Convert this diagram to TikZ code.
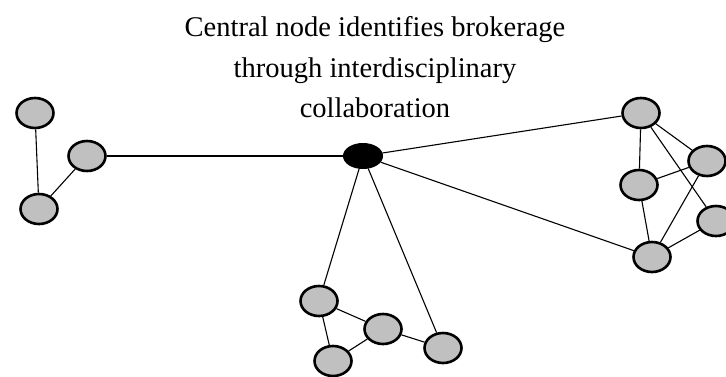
\documentclass[tikz,border=0pt]{standalone}
\usepackage{fontspec}
\setmainfont{Liberation Serif}
\usetikzlibrary{shapes.geometric}
\definecolor{nodegray}{RGB}{192,192,192}
\begin{document}
\begin{tikzpicture}[x=1pt,y=-1pt,
  gnode/.style={ellipse, draw, line width=2.6pt, fill=nodegray, minimum width=37pt, minimum height=30pt, inner sep=0pt},
  cnode/.style={ellipse, draw, line width=1pt, fill=black, minimum width=39pt, minimum height=25pt, inner sep=0pt},
  link/.style={line width=1.1pt},
  title/.style={font=\fontsize{28.5}{34}\selectfont, anchor=base, inner sep=0pt}]
\useasboundingbox (0,0) rectangle (726,376);
% title
\node[title] (t1) at (375,36) {Central node identifies brokerage};
\node[title] (t2) at (375,77) {through interdisciplinary};
\node[title] (t3) at (375,117) {collaboration};
% central
\node[cnode] (c) at (363,156) {};
% left cluster
\node[gnode] (l1) at (35,113) {};
\node[gnode] (l2) at (87,156) {};
\node[gnode] (l3) at (39,209) {};
% right cluster
\node[gnode] (ra) at (641,113) {};
\node[gnode] (rb) at (707,161) {};
\node[gnode] (rc) at (639,185) {};
\node[gnode] (rd) at (716,221) {};
\node[gnode] (re) at (652,257) {};
% bottom cluster
\node[gnode] (bf) at (319,301) {};
\node[gnode] (bg) at (383,329) {};
\node[gnode] (bh) at (333,361) {};
\node[gnode] (bi) at (443,348) {};
% links
\draw[link] (c) -- (l2);
\draw[link] (l1) -- (l3);
\draw[link] (l2) -- (l3);
\draw[link] (c) -- (ra);
\draw[link] (c) -- (re);
\draw[link] (ra) -- (rb);
\draw[link] (ra) -- (rc);
\draw[link] (ra) -- (rd);
\draw[link] (rc) -- (rb);
\draw[link] (rc) -- (re);
\draw[link] (rb) -- (re);
\draw[link] (rd) -- (re);
\draw[link] (c) -- (bf);
\draw[link] (c) -- (bi);
\draw[link] (bf) -- (bg);
\draw[link] (bf) -- (bh);
\draw[link] (bg) -- (bh);
\draw[link] (bg) -- (bi);
\end{tikzpicture}
\end{document}
